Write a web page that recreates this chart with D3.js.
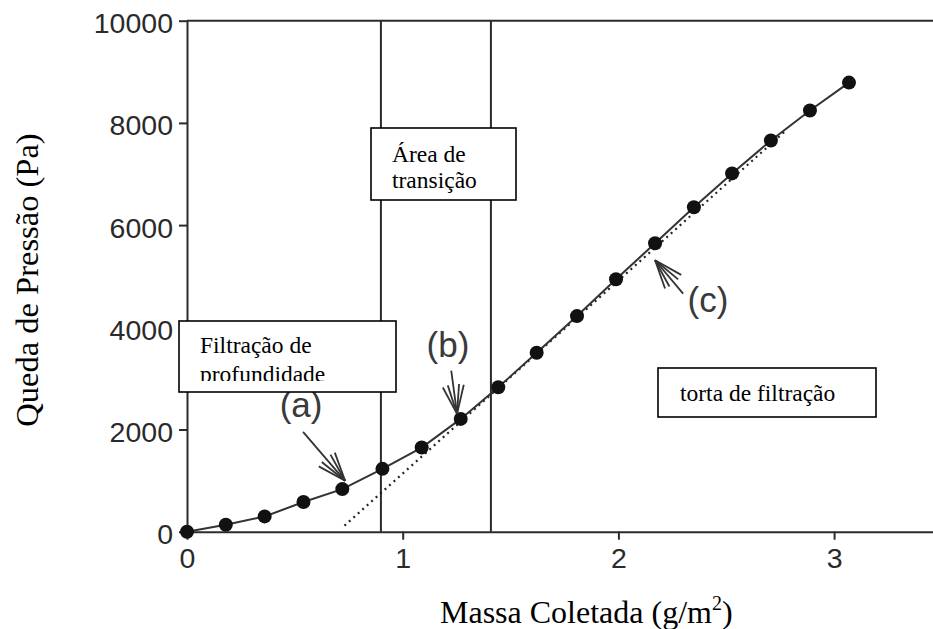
<!DOCTYPE html>
<html>
<head>
<meta charset="utf-8">
<script src="https://cdn.jsdelivr.net/npm/d3@7/dist/d3.min.js"></script>
<style>
  html, body { margin: 0; padding: 0; background: #fff; }
  svg { display: block; }
</style>
</head>
<body>
<svg id="chart" width="933" height="629"></svg>
<script>
// ---------- data ----------
const massa = [0, 0.18, 0.36, 0.54, 0.72, 0.906, 1.088, 1.269, 1.443, 1.621, 1.808, 1.989, 2.170, 2.350, 2.527, 2.707, 2.888, 3.069];
const queda = [0, 137, 299, 580, 834, 1230, 1647, 2207, 2826, 3502, 4219, 4941, 5645, 6348, 7012, 7656, 8242, 8789];
const xTicks = [0, 1, 2, 3];
const yTicks = [0, 2000, 4000, 6000, 8000, 10000];
const regionBounds = [0.899, 1.409];        // vertical separators (g/m2)
const tangentX = [0.73, 2.78];              // dotted cake-filtration line
const tangentY = [118, 7863];
const arrowLabels = ["(a)", "(b)", "(c)"];
const arrowTipX = [0.733, 1.252, 2.170];
const arrowTipY = [996, 2305, 5313];
const arrowTailX = [0.538, 1.225, 2.300];
const arrowTailY = [1953, 3150, 4660];
const arrowLabelX = [0.529, 1.210, 2.415];
const arrowLabelY = [2240, 3420, 4300];

// ---------- layout ----------
const svg = d3.select("#chart");
const X0 = 187, PX_PER_UNIT = 215.7;
const x = d3.scaleLinear().domain([0, 3.5]).range([X0, X0 + 3.5 * PX_PER_UNIT]);
const y = d3.scaleLinear().domain([0, 10000]).range([531.7, 20.7]);
const axisColor = "#2b2b2b";
const tickFont = "'Liberation Sans', Arial, Helvetica, sans-serif";
const serif = "'Liberation Serif', 'Times New Roman', Times, serif";

// frame top line
svg.append("line")
  .attr("x1", x(0)).attr("x2", x(3.5))
  .attr("y1", y(10000)).attr("y2", y(10000))
  .attr("stroke", axisColor).attr("stroke-width", 2);

// axes
const gx = svg.append("g").attr("transform", `translate(0,${y(0)})`)
  .call(d3.axisBottom(x).tickValues(xTicks).tickFormat(d3.format("d")).tickSize(8).tickPadding(8).tickSizeOuter(0));
const gy = svg.append("g").attr("transform", `translate(${x(0)},0)`)
  .call(d3.axisLeft(y).tickValues(yTicks).tickFormat(d3.format("d")).tickSize(8).tickPadding(6).tickSizeOuter(0));
[gx, gy].forEach(g => {
  g.select(".domain").attr("stroke", axisColor).attr("stroke-width", 2);
  g.selectAll(".tick line").attr("stroke", axisColor).attr("stroke-width", 2);
  g.selectAll(".tick text").attr("fill", "#2a2a2a").style("font-family", tickFont).style("font-size", "28.5px");
});
gy.selectAll(".tick text").attr("dy", "0.42em");
gx.selectAll(".tick text").attr("dy", "0.7em");

// vertical region separators
svg.selectAll("line.sep").data(regionBounds).enter().append("line")
  .attr("class", "sep")
  .attr("x1", d => x(d)).attr("x2", d => x(d))
  .attr("y1", y(0)).attr("y2", y(10000))
  .attr("stroke", axisColor).attr("stroke-width", 2);

// dotted tangent line
svg.append("line")
  .attr("x1", x(tangentX[0])).attr("y1", y(tangentY[0]))
  .attr("x2", x(tangentX[1])).attr("y2", y(tangentY[1]))
  .attr("stroke", "#222").attr("stroke-width", 2.2)
  .attr("stroke-dasharray", "2,4");

// data line & points
const pts = massa.map((m, i) => ({ m, q: queda[i] }));
svg.append("path").datum(pts)
  .attr("fill", "none").attr("stroke", "#333").attr("stroke-width", 2)
  .attr("d", d3.line().x(d => x(d.m)).y(d => y(d.q)));
svg.selectAll("circle.pt").data(pts).enter().append("circle")
  .attr("class", "pt")
  .attr("cx", d => x(d.m)).attr("cy", d => y(d.q)).attr("r", 7)
  .attr("fill", "#111");

// arrows with feathered open heads
arrowLabels.forEach((lab, i) => {
  const tx = x(arrowTipX[i]), ty = y(arrowTipY[i]);
  const sx = x(arrowTailX[i]), sy = y(arrowTailY[i]);
  const ang = Math.atan2(sy - ty, sx - tx);
  const g = svg.append("g").attr("stroke", "#333").attr("stroke-width", 1.8).attr("fill", "none");
  g.append("line").attr("x1", sx).attr("y1", sy).attr("x2", tx).attr("y2", ty);
  [-0.36, -0.18, 0.2, 0.36].forEach(da => {
    const L = 30;
    g.append("line").attr("x1", tx).attr("y1", ty)
      .attr("x2", tx + L * Math.cos(ang + da)).attr("y2", ty + L * Math.sin(ang + da));
  });
  svg.append("text")
    .attr("x", x(arrowLabelX[i])).attr("y", y(arrowLabelY[i]))
    .attr("text-anchor", "middle")
    .attr("fill", "#3a3a3a")
    .style("font-family", tickFont).style("font-size", "35px")
    .text(lab);
});

// annotation boxes
function box(x0, y0, x1, y1, lines, tx, baselines, clipBottom) {
  svg.append("rect")
    .attr("x", x0).attr("y", y0).attr("width", x1 - x0).attr("height", y1 - y0)
    .attr("fill", "#fff").attr("stroke", "#000").attr("stroke-width", 1.6);
  let g = svg.append("g");
  if (clipBottom) {
    const id = "clip" + Math.round(x0);
    svg.append("clipPath").attr("id", id).append("rect")
      .attr("x", x0).attr("y", y0).attr("width", x1 - x0).attr("height", clipBottom - y0);
    g.attr("clip-path", `url(#${id})`);
  }
  lines.forEach((t, i) => {
    g.append("text").attr("x", tx).attr("y", baselines[i])
      .style("font-family", serif).style("font-size", "23.5px").attr("fill", "#000")
      .text(t);
  });
}
box(371, 128, 516, 200, ["Área de", "transição"], 392, [162, 188]);
box(179, 321, 396, 392, ["Filtração de", "profundidade"], 200, [353, 382], 381);
box(658, 368, 876, 417, ["torta de filtração"], 680, [401]);

// axis titles
const xt = svg.append("text").attr("x", 440).attr("y", 623)
  .style("font-family", serif).style("font-size", "32px").attr("fill", "#000");
xt.append("tspan").text("Massa Coletada (g/m");
xt.append("tspan").attr("dy", -13).style("font-size", "20px").text("2");
xt.append("tspan").attr("dy", 13).text(")");

svg.append("text")
  .attr("transform", "translate(38,280) rotate(-90)")
  .attr("text-anchor", "middle")
  .style("font-family", serif).style("font-size", "32.5px").attr("fill", "#000")
  .text("Queda de Pressão (Pa)");
</script>
</body>
</html>
